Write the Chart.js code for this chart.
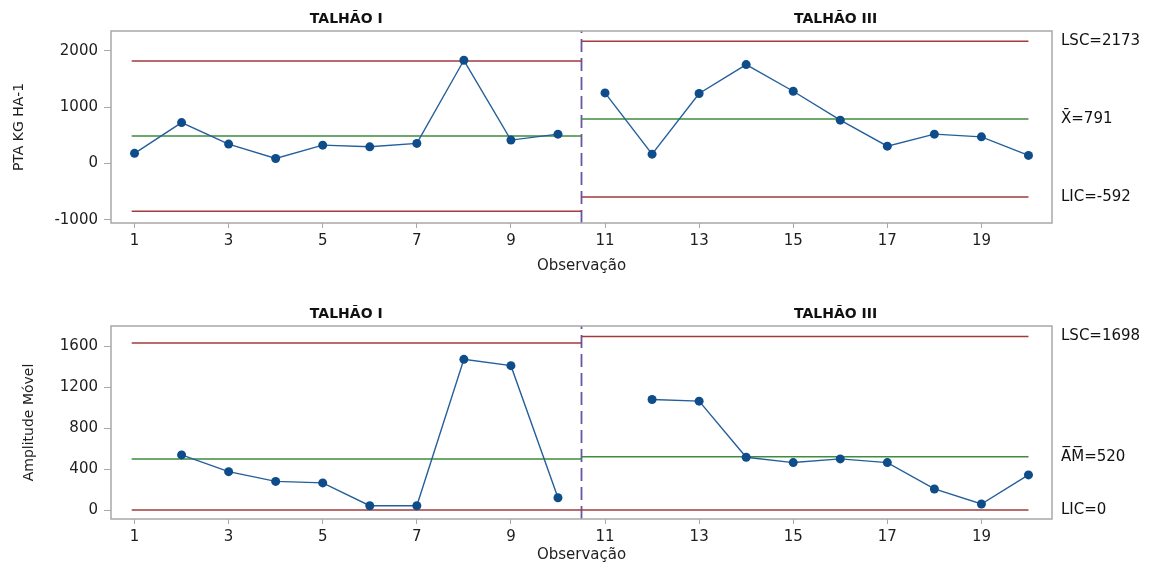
<!DOCTYPE html>
<html>
<head>
<meta charset="utf-8">
<script src="https://cdn.jsdelivr.net/npm/chart.js@4.4.1/dist/chart.umd.min.js"></script>
<style>
  body { margin: 0; background: #fff; }
  canvas { display: block; }
</style>
</head>
<body>
<canvas id="ptaChart" width="1153" height="285"></canvas>
<canvas id="mrChart" width="1153" height="285"></canvas>
<script>
const observations = [1, 2, 3, 4, 5, 6, 7, 8, 9, 10, 11, 12, 13, 14, 15, 16, 17, 18, 19, 20];
const ptaValues = [182, 728, 347, 90, 328, 298, 358, 1835, 417, 523, 1255, 168, 1245, 1759, 1285, 771, 310, 523, 475, 145];
const mrValues = [null, 539, 375, 280, 265, 42, 42, 1474, 1412, 120, null, 1081, 1065, 516, 464, 500, 464, 206, 59, 343];

const stageNames = ["TALHÃO I", "TALHÃO III"];
const stageBreak = 10.5;

// limits: LSC, central line, LIC
const ptaLimitsI = [1820, 488, -845];
const ptaLimitsIII = [2173, 791, -592];
const mrLimitsI = [1633, 500, 0];
const mrLimitsIII = [1698, 520, 0];

const ptaLimitLabels = ["LSC=2173", "X\u0304=791", "LIC=-592"];
const mrLimitLabels = ["LSC=1698", "A\u0305M\u0305=520", "LIC=0"];

const xTicks = [1, 3, 5, 7, 9, 11, 13, 15, 17, 19];
const ptaTicks = [-1000, 0, 1000, 2000];
const mrTicks = [0, 400, 800, 1200, 1600];

const blue = "#245f9c";
const blueDot = "#0f4c8a";
const red = "#a23a3e";
const green = "#3c8d3c";
const purple = "#6a55a0";
const boxGrey = "#a8a8a8";

Chart.defaults.font.family = '"DejaVu Sans", sans-serif';
Chart.defaults.color = "#1e1e1e";

const decor = {
    id: "decor",
    afterDraw(chart, args, opts) {
        const ctx = chart.ctx;
        const a = chart.chartArea;
        const x = chart.scales.x;
        const y = chart.scales.y;
        ctx.save();
        ctx.strokeStyle = boxGrey;
        ctx.lineWidth = 1.5;
        ctx.strokeRect(a.left, a.top, a.right - a.left, a.bottom - a.top);

        ctx.fillStyle = "#111";
        ctx.textAlign = "center";
        ctx.textBaseline = "middle";
        ctx.font = 'bold 14px "DejaVu Sans"';
        ctx.fillText(stageNames[0], x.getPixelForValue(5.5), a.top - 12);
        ctx.fillText(stageNames[1], x.getPixelForValue(15.9), a.top - 12);

        ctx.textAlign = "left";
        ctx.font = '15px "DejaVu Sans"';
        opts.limits.forEach((v, i) => {
            ctx.fillText(opts.labels[i], a.right + 9, y.getPixelForValue(v));
        });
        ctx.restore();
    }
};

function stagePoints(values, from, to) {
    const pts = [];
    for (let i = from; i < to; i++) {
        if (values[i] !== null) pts.push({ x: observations[i], y: values[i] });
    }
    return pts;
}

function limitLines(limitsI, limitsIII) {
    const sets = [];
    [limitsI, limitsIII].forEach((lim, s) => {
        lim.forEach((v, i) => {
            const x0 = s === 0 ? 0.94 : stageBreak;
            const x1 = s === 0 ? stageBreak : 20;
            sets.push({
                data: [{ x: x0, y: v }, { x: x1, y: v }],
                borderColor: i === 1 ? green : red,
                borderWidth: 1.5,
                pointRadius: 0
            });
        });
    });
    return sets;
}

function buildChart(id, values, limitsI, limitsIII, labels, yTicks, yMin, yMax, yTitle, cfg) {
    const series = [0, 1].map(s => ({
        data: stagePoints(values, s * 10, s * 10 + 10),
        borderColor: blue,
        borderWidth: 1.4,
        pointRadius: 4.5,
        pointBackgroundColor: blueDot,
        pointBorderColor: blueDot,
        pointBorderWidth: 0
    }));
    const divider = {
        data: [{ x: stageBreak, y: yMin }, { x: stageBreak, y: yMax }],
        borderColor: purple,
        borderWidth: 1.8,
        borderDash: [13, 6],
        pointRadius: 0
    };

    return new Chart(document.getElementById(id), {
        type: "line",
        data: { datasets: [...series, ...limitLines(limitsI, limitsIII), divider] },
        plugins: [decor],
        options: {
            responsive: false,
            animation: false,
            devicePixelRatio: 1,
            layout: { padding: { left: 0, right: 101, top: cfg.top, bottom: 0 } },
            plugins: {
                legend: { display: false },
                tooltip: { enabled: false },
                decor: { limits: [limitsIII[0], limitsIII[1], limitsIII[2]], labels: labels }
            },
            scales: {
                x: {
                    type: "linear",
                    min: 0.5,
                    max: 20.5,
                    afterBuildTicks: s => { s.ticks = xTicks.map(v => ({ value: v })); },
                    afterFit: s => { s.height = cfg.xHeight; },
                    grid: { drawOnChartArea: false, tickLength: 5, tickColor: boxGrey },
                    border: { display: false },
                    ticks: { padding: 4, font: { size: 15 }, maxRotation: 0, callback: v => String(v) },
                    title: {
                        display: true,
                        text: "Observação",
                        font: { size: 15 },
                        padding: { top: 0, bottom: cfg.xTitlePad }
                    }
                },
                y: {
                    min: yMin,
                    max: yMax,
                    afterBuildTicks: s => { s.ticks = yTicks.map(v => ({ value: v })); },
                    afterFit: s => { s.width = 111; },
                    grid: { drawOnChartArea: false, tickLength: 7, tickColor: boxGrey },
                    border: { display: false },
                    ticks: { padding: 6, font: { size: 15 }, callback: v => String(v) },
                    title: {
                        display: true,
                        text: yTitle,
                        font: { size: 14 },
                        padding: { top: cfg.yTitlePad, bottom: 0 }
                    }
                }
            }
        }
    });
}

buildChart("ptaChart", ptaValues, ptaLimitsI, ptaLimitsIII, ptaLimitLabels, ptaTicks,
    -1055, 2355, "PTA KG HA-1", { top: 31, xHeight: 62, xTitlePad: 10, yTitlePad: 11 });
buildChart("mrChart", mrValues, mrLimitsI, mrLimitsIII, mrLimitLabels, mrTicks,
    -88, 1800, "Amplitude Móvel", { top: 41, xHeight: 51, xTitlePad: 6, yTitlePad: 21 });
</script>
</body>
</html>
